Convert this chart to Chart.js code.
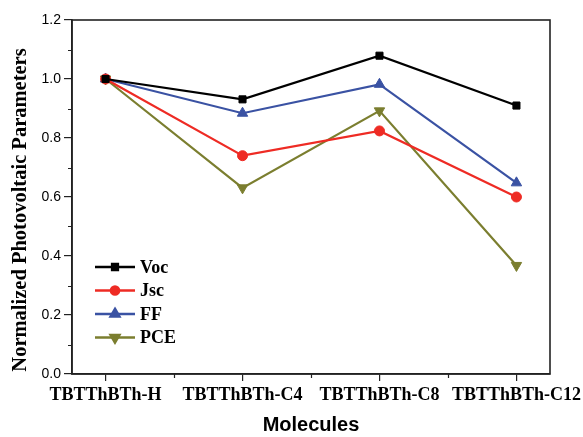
<!DOCTYPE html>
<html>
<head>
<meta charset="UTF-8">
<title>Normalized Photovoltaic Parameters</title>
<script src="https://cdn.jsdelivr.net/npm/chart.js"></script>
<style>
  html, body { margin: 0; padding: 0; background: #fff; }
  #wrap { width: 583px; height: 437px; }
</style>
</head>
<body>
<div id="wrap"><canvas id="chart" width="583" height="437"></canvas></div>
<script>
const molecules = ['TBTThBTh-H', 'TBTThBTh-C4', 'TBTThBTh-C8', 'TBTThBTh-C12'];
const voc = [1.0, 0.931, 1.079, 0.910];
const jsc = [1.0, 0.740, 0.824, 0.600];
const ff  = [1.0, 0.884, 0.982, 0.648];
const pce = [1.0, 0.631, 0.892, 0.368];
const yTicks = [0.0, 0.2, 0.4, 0.6, 0.8, 1.0, 1.2];
const yTitle = 'Normalized Photovoltaic Parameters';

const SERIF = "'Liberation Serif', 'Times New Roman', serif";
const SANS = "'Liberation Sans', Arial, sans-serif";

function toPoints(arr) {
    return arr.map((v, i) => ({ x: i, y: v }));
}

function series(label, values, color, style, rot) {
    return {
        label,
        data: toPoints(values),
        borderColor: color,
        backgroundColor: color,
        borderWidth: 2.2,
        pointStyle: style,
        pointRotation: rot || 0,
        pointRadius: style === 'triangle' ? 6 : 5,
        pointBorderWidth: 1,
        tension: 0
    };
}

// frame, minor ticks, y title and the legend box in the lower left
const extras = {
    id: 'extras',
    afterDraw(chart) {
        const ctx = chart.ctx;
        const a = chart.chartArea;
        const xs = chart.scales.x, ys = chart.scales.y;
        ctx.save();
        ctx.strokeStyle = '#222';
        ctx.lineWidth = 1.6;
        ctx.strokeRect(a.left, a.top, a.right - a.left, a.bottom - a.top);

        ctx.lineWidth = 1.2;
        ctx.beginPath();
        for (let v = 0.1; v < 1.2; v += 0.2) {
            const y = Math.round(ys.getPixelForValue(v)) + 0.5;
            ctx.moveTo(a.left - 4, y);
            ctx.lineTo(a.left, y);
        }
        for (let i = 0; i < molecules.length - 1; i++) {
            const x = Math.round(xs.getPixelForValue(i + 0.5)) + 0.5;
            ctx.moveTo(x, a.bottom);
            ctx.lineTo(x, a.bottom + 4);
        }
        ctx.stroke();

        // y axis title, sits a little below the plot centre in the original
        ctx.save();
        ctx.translate(21, (a.top + a.bottom) / 2 + 13);
        ctx.rotate(-Math.PI / 2);
        ctx.font = 'bold 20.5px ' + SERIF;
        ctx.fillStyle = '#000';
        ctx.textAlign = 'center';
        ctx.textBaseline = 'middle';
        ctx.fillText(yTitle, 0, 0);
        ctx.restore();

        // legend
        const lx = a.left + 23;
        let ly = a.bottom - 107;
        ctx.font = 'bold 18px ' + SERIF;
        ctx.textBaseline = 'middle';
        chart.data.datasets.forEach(ds => {
            ctx.strokeStyle = ds.borderColor;
            ctx.lineWidth = 2.6;
            ctx.beginPath();
            ctx.moveTo(lx, ly);
            ctx.lineTo(lx + 40, ly);
            ctx.stroke();
            ctx.fillStyle = ds.backgroundColor;
            Chart.helpers.drawPoint(ctx, {
                pointStyle: ds.pointStyle,
                rotation: ds.pointRotation,
                radius: ds.pointRadius - 1,
                borderWidth: 1
            }, lx + 20, ly);
            ctx.fillStyle = '#000';
            ctx.fillText(ds.label, lx + 45, ly + 1);
            ly += 23.5;
        });
        ctx.restore();
    }
};

new Chart(document.getElementById('chart'), {
    type: 'line',
    data: {
        datasets: [
            series('Voc', voc, '#000000', 'rect'),
            series('Jsc', jsc, '#ee2b24', 'circle'),
            series('FF', ff, '#3a52a3', 'triangle'),
            series('PCE', pce, '#7b7e2f', 'triangle', 180)
        ]
    },
    options: {
        responsive: false,
        animation: false,
        layout: { padding: { top: 20, right: 33, left: 0, bottom: 0 } },
        plugins: { legend: { display: false }, tooltip: { enabled: false } },
        scales: {
            x: {
                type: 'linear',
                min: -0.245,
                max: 3.245,
                afterBuildTicks(scale) {
                    scale.ticks = molecules.map((m, i) => ({ value: i }));
                },
                afterFit(scale) {
                    scale.height = 63;
                    scale.paddingLeft = 0;
                    scale.paddingRight = 0;
                },
                grid: { drawOnChartArea: false, tickLength: 7, color: '#222', lineWidth: 1.2 },
                border: { color: '#222', width: 1.6 },
                ticks: {
                    color: '#000',
                    padding: 4,
                    maxRotation: 0,
                    autoSkip: false,
                    font: { family: SERIF, size: 18, weight: 'bold' },
                    callback: v => molecules[v]
                },
                title: {
                    display: true,
                    text: 'Molecules',
                    color: '#000',
                    padding: { top: 4, bottom: 0 },
                    font: { family: SANS, size: 20, weight: 'bold' }
                }
            },
            y: {
                min: 0,
                max: 1.2,
                afterBuildTicks(scale) {
                    scale.ticks = yTicks.map(v => ({ value: v }));
                },
                afterFit(scale) { scale.width = 72; },
                grid: { drawOnChartArea: false, tickLength: 8, color: '#222', lineWidth: 1.2 },
                border: { color: '#222', width: 1.6 },
                ticks: {
                    color: '#000',
                    padding: 3,
                    font: { family: SANS, size: 14 },
                    callback: v => v.toFixed(1)
                }
            }
        }
    },
    plugins: [extras]
});
</script>
</body>
</html>
